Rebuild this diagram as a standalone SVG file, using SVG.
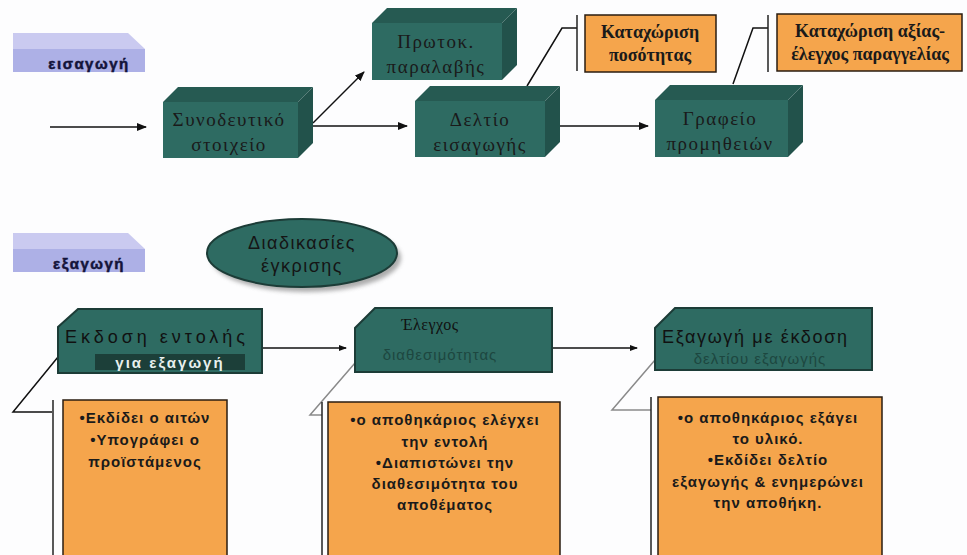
<svg xmlns="http://www.w3.org/2000/svg" width="967" height="555" viewBox="0 0 967 555">
<defs>
<marker id="ah" markerWidth="10" markerHeight="8" refX="9" refY="4" orient="auto" markerUnits="userSpaceOnUse">
<path d="M0,0 L10,4 L0,8 Z" fill="#111"/>
</marker>
<marker id="ahs" markerWidth="8" markerHeight="6" refX="7" refY="3" orient="auto" markerUnits="userSpaceOnUse">
<path d="M0,0 L8,3 L0,6 Z" fill="#111"/>
</marker>
<filter id="sh" x="-20%" y="-20%" width="140%" height="160%"><feGaussianBlur stdDeviation="2"/></filter>
</defs>
<style>
.front{fill:#2e6b62;}
.top{fill:#265a52;}
.side{fill:#22524b;}
.ttl{font-family:"Liberation Serif",serif;font-size:19px;fill:#1a1a1a;text-anchor:middle;letter-spacing:1.5px;}
.cal{fill:#f5a54c;stroke:#2a1d10;stroke-width:1.5;}
.calt{font-family:"Liberation Serif",serif;font-weight:bold;font-size:18px;fill:#1a1a1a;text-anchor:middle;}
.bar{stroke:#222;stroke-width:1.5;fill:none;}
.lbl{font-family:"Liberation Sans",sans-serif;font-weight:bold;font-size:15px;fill:#14143a;text-anchor:middle;letter-spacing:1.5px;stroke:#14143a;stroke-width:0.5px;}
.lavt{fill:#cacaf0;}
.lavf{fill:#adb0e6;}
.bbox{fill:#2e6b62;stroke:#1c3c37;stroke-width:2;}
.bt{font-family:"Liberation Sans",sans-serif;font-size:18px;fill:#111;}
.bt2{font-family:"Liberation Sans",sans-serif;font-size:15px;fill:#1d4740;text-anchor:middle;}
.ot{font-family:"Liberation Sans",sans-serif;font-weight:bold;font-size:15px;fill:#1a1a1a;text-anchor:middle;letter-spacing:1px;}
.con{stroke:#111;stroke-width:1.5;fill:none;}
.gcon{stroke:#8a8a8a;stroke-width:1.5;fill:none;}
</style>
<rect width="967" height="555" fill="#fdfdfe"/>

<g id="label-eisagogi">
<polygon class="lavt" points="13,33 128,33 145,49 13,49"/>
<rect class="lavf" x="13" y="49" width="132" height="23"/>
<text class="lbl" x="89" y="69">εισαγωγή</text>
</g>

<g id="label-exagogi">
<polygon class="lavt" points="13,233 128,233 145,249 13,249"/>
<rect class="lavf" x="13" y="249" width="132" height="23"/>
<text class="lbl" x="89" y="269">εξαγωγή</text>
</g>

<g id="connectors">
<line class="con" x1="50" y1="127" x2="146" y2="127" marker-end="url(#ah)"/>
<line class="con" x1="313" y1="126" x2="407" y2="126" marker-end="url(#ah)"/>
<line class="con" x1="313" y1="123" x2="364" y2="72" marker-end="url(#ah)"/>
<line class="con" x1="550" y1="126" x2="648" y2="126" marker-end="url(#ah)"/>
<polyline class="con" points="527,86 562,28 577,28"/>
<line class="bar" x1="577" y1="15" x2="577" y2="71"/>
<polyline class="con" points="733,84 753,28 768,28"/>
<line class="bar" x1="768" y1="15" x2="768" y2="72"/>
<line class="con" x1="262" y1="348" x2="346" y2="348" marker-end="url(#ahs)"/>
<line class="con" x1="552" y1="348" x2="637" y2="348" marker-end="url(#ahs)"/>
<polyline class="con" points="58,357 13,412 52,412"/>
<line class="bar" x1="53" y1="400" x2="53" y2="555"/>
<polyline class="gcon" points="355,363 310,415 322,415"/>
<line class="bar" x1="322" y1="402" x2="322" y2="555"/>
<polyline class="gcon" points="655,360 612,410 651,410"/>
<line class="bar" x1="651" y1="397" x2="651" y2="555"/>
</g>

<g id="synodeytiko">
<polygon class="top" points="163,102 178,87 313,87 298,102"/>
<polygon class="side" points="298,102 313,87 313,143 298,158"/>
<rect class="front" x="163" y="102" width="135" height="56"/>
<text class="ttl" x="229" y="126">Συνοδευτικό</text>
<text class="ttl" x="229" y="151">στοιχείο</text>
</g>

<g id="protok">
<polygon class="top" points="372,23 387,8 517,8 502,23"/>
<polygon class="side" points="502,23 517,8 517,65 502,80"/>
<rect class="front" x="372" y="23" width="130" height="57"/>
<text class="ttl" x="436" y="48">Πρωτοκ.</text>
<text class="ttl" x="436" y="73">παραλαβής</text>
</g>

<g id="deltio">
<polygon class="top" points="415,101 430,86 560,86 545,101"/>
<polygon class="side" points="545,101 560,86 560,142 545,157"/>
<rect class="front" x="415" y="101" width="130" height="56"/>
<text class="ttl" x="480" y="126">Δελτίο</text>
<text class="ttl" x="480" y="151">εισαγωγής</text>
</g>

<g id="grafeio">
<polygon class="top" points="655,100 670,85 803,85 788,100"/>
<polygon class="side" points="788,100 803,85 803,142 788,157"/>
<rect class="front" x="655" y="100" width="133" height="57"/>
<text class="ttl" x="720" y="125">Γραφείο</text>
<text class="ttl" x="720" y="150">προμηθειών</text>
</g>

<g id="kataxorisi-posotitas">
<rect class="cal" x="585" y="15" width="131" height="57"/>
<text class="calt" x="650" y="38">Καταχώριση</text>
<text class="calt" x="650" y="61">ποσότητας</text>
</g>

<g id="kataxorisi-axias">
<rect class="cal" x="777" y="14" width="185" height="57"/>
<text class="calt" x="870" y="37">Καταχώριση αξίας-</text>
<text class="calt" x="870" y="60">έλεγχος παραγγελίας</text>
</g>

<g id="diadikasies">
<ellipse cx="306" cy="258" rx="95" ry="34" fill="#777" opacity="0.6" filter="url(#sh)"/>
<ellipse cx="302" cy="253" rx="95" ry="34" fill="#2e6b62" stroke="#1c3c37" stroke-width="2"/>
<text x="302" y="249" font-family="Liberation Sans, sans-serif" font-size="18" fill="#151515" text-anchor="middle" letter-spacing="1.5">Διαδικασίες</text>
<text x="302" y="272" font-family="Liberation Sans, sans-serif" font-size="18" fill="#151515" text-anchor="middle" letter-spacing="1.5">έγκρισης</text>
</g>

<g id="ekdosi">
<polygon class="bbox" points="78,309 262,309 262,373 58,373 58,327"/>
<rect x="95" y="354" width="150" height="16" fill="#1c3f39"/>
<text class="bt" x="65" y="343" textLength="180" lengthAdjust="spacing">Εκδοση εντολής</text>
<text x="170" y="368" font-family="Liberation Sans, sans-serif" font-size="15" fill="#e8f0ee" text-anchor="middle" font-weight="bold" letter-spacing="2">για εξαγωγή</text>
</g>

<g id="elegxos">
<polygon class="bbox" points="375,308 552,308 552,372 355,372 355,328"/>
<text x="430" y="330" font-family="Liberation Serif, serif" font-size="16" fill="#111" text-anchor="middle" letter-spacing="0.5">Έλεγχος</text>
<text class="bt2" x="440" y="360" letter-spacing="1">διαθεσιμότητας</text>
</g>

<g id="exagogi-ekdosi">
<polygon class="bbox" points="675,308 872,308 872,370 655,370 655,328"/>
<text class="bt" x="662" y="343" textLength="185" lengthAdjust="spacing">Εξαγωγή με έκδοση</text>
<text class="bt2" x="760" y="364" letter-spacing="1">δελτίου εξαγωγής</text>
</g>

<g id="note-1">
<rect class="cal" x="63" y="400" width="164" height="160"/>
<text class="ot" x="145" y="423">•Εκδίδει ο αιτών</text>
<text class="ot" x="145" y="445">•Υπογράφει ο</text>
<text class="ot" x="145" y="467">προϊστάμενος</text>
</g>

<g id="note-2">
<rect class="cal" x="328" y="402" width="232" height="160"/>
<text class="ot" x="445" y="425">•ο αποθηκάριος ελέγχει</text>
<text class="ot" x="445" y="447">την εντολή</text>
<text class="ot" x="445" y="468">•Διαπιστώνει την</text>
<text class="ot" x="445" y="489">διαθεσιμότητα του</text>
<text class="ot" x="445" y="510">αποθέματος</text>
</g>

<g id="note-3">
<rect class="cal" x="658" y="397" width="224" height="165"/>
<text class="ot" x="768" y="423">•ο αποθηκάριος εξάγει</text>
<text class="ot" x="768" y="444">το υλικό.</text>
<text class="ot" x="768" y="465">•Εκδίδει δελτίο</text>
<text class="ot" x="768" y="487" letter-spacing="1.5">εξαγωγής &amp; ενημερώνει</text>
<text class="ot" x="768" y="508">την αποθήκη.</text>
</g>
</svg>
